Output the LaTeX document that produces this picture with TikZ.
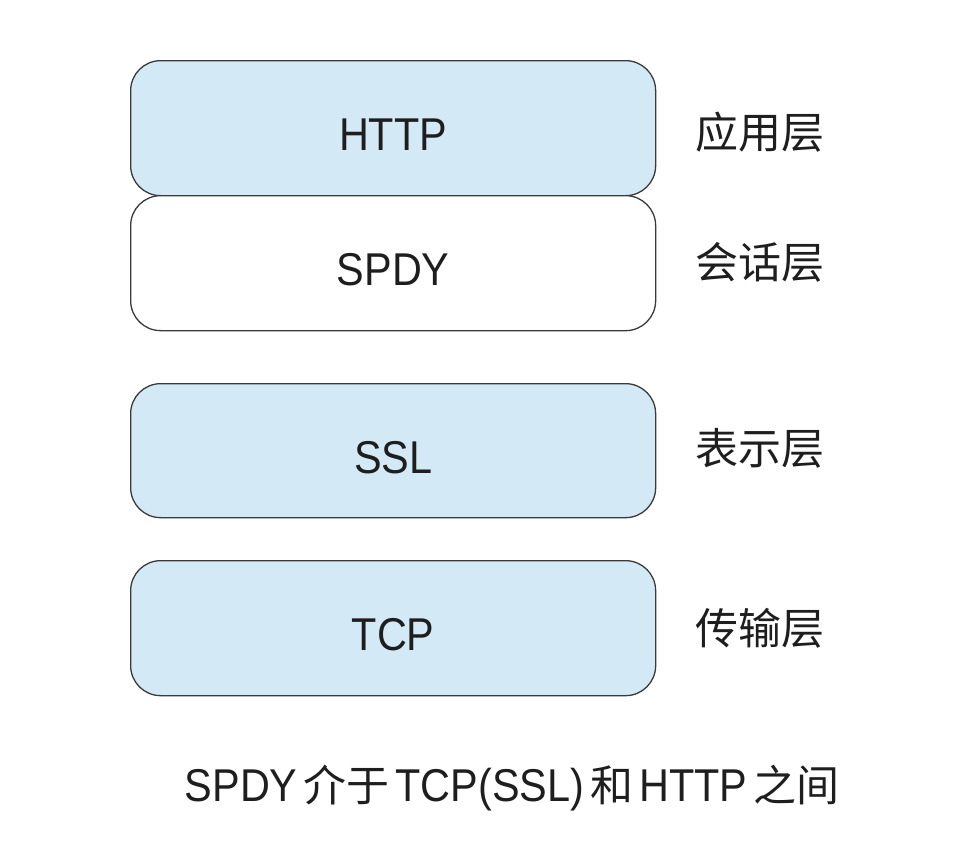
\documentclass[tikz,border=0pt]{standalone}
\usepackage{fontspec}
\setmainfont{Liberation Sans}[FakeStretch=0.9]
\newfontfamily\cjk{Noto Sans CJK SC}
\definecolor{boxblue}{HTML}{D3EAF6}
\definecolor{edge}{HTML}{3A3A3A}
\definecolor{ink}{HTML}{1E1E1E}
\begin{document}
\begin{tikzpicture}[x=1pt,y=-1pt,
  layer/.style={draw=edge,line width=1.3pt,rounded corners=30pt,minimum width=525pt,anchor=north west,inner sep=0pt,text=ink,text height=45pt,text depth=0pt,font=\fontsize{46}{46}\selectfont},
  lab/.style={font=\cjk\fontsize{43}{43}\selectfont,text=ink,inner sep=0pt}]
\useasboundingbox (0,0) rectangle (954,860);
\node[layer,fill=boxblue,minimum height=135pt] (http) at (130,60) {HTTP};
\node[layer,fill=white,minimum height=135pt] (spdy) at (130,195) {SPDY};
\node[layer,fill=boxblue,minimum height=134pt] (ssl) at (130,383) {SSL};
\node[layer,fill=boxblue,minimum height=135pt] (tcp) at (130,560) {TCP};
\node[lab] (l1) at (760,132) {应用层};
\node[lab] (l2) at (760,262) {会话层};
\node[lab] (l3) at (760,448) {表示层};
\node[lab] (l4) at (760,628) {传输层};
\node[inner sep=0pt,text=ink,font=\fontsize{46}{46}\selectfont] (cap) at (512,788) {SPDY\hspace{6pt}{\cjk\fontsize{43}{43}\selectfont 介于}\hspace{6pt}TCP(SSL)\hspace{6pt}{\cjk\fontsize{43}{43}\selectfont 和}\hspace{6pt}HTTP\hspace{6pt}{\cjk\fontsize{43}{43}\selectfont 之间}};
\end{tikzpicture}
\end{document}
